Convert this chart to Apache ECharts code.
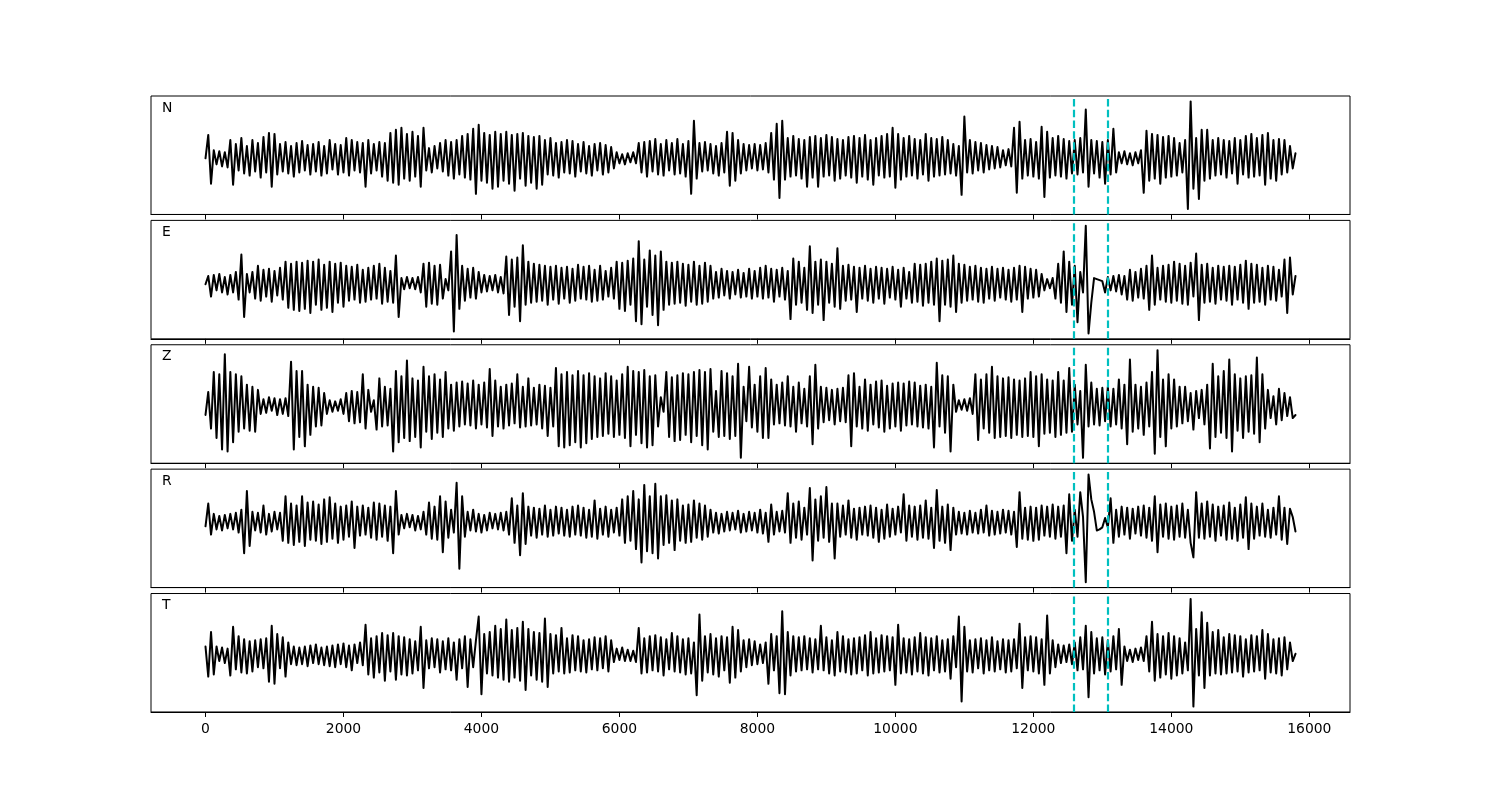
<!DOCTYPE html>
<html><head><meta charset="utf-8">
<script src="https://cdn.jsdelivr.net/npm/echarts@6/dist/echarts.min.js"></script>
<style>html,body{margin:0;padding:0;background:#fff}#c{width:1500px;height:800px}</style>
</head><body><div id="c"></div>
<script>
// sample spacing between successive read-off extrema (samples)
const dt = 40;
const traceNames = ['N', 'E', 'Z', 'R', 'T'];
const xTicks = [0, 2000, 4000, 6000, 8000, 10000, 12000, 14000, 16000];
const xMin = -790, xMax = 16590;
const picks = [12590, 13085];

const N = [
0,23,-25,8,-6,7,-8,6,-9,18,
-26,14,-12,20,-15,12,-17,18,-13,15,
-19,21,-14,25,-28,24,-16,14,-13,16,
-15,12,-18,15,-14,17,-12,13,-16,14,
-13,16,-17,12,-15,18,-11,14,-16,13,
-14,20,-17,18,-12,16,-14,15,-28,18,
-15,14,-12,16,-18,15,-22,25,-24,28,
-26,30,-20,24,-22,26,-18,22,-28,30,
-12,10,-14,12,-10,15,-13,18,-17,16,
-20,18,-16,22,-19,24,-21,29,-35,33,
-22,25,-24,23,-30,26,-28,24,-22,26,
-25,23,-32,24,-20,25,-27,22,-24,21,
-30,22,-26,18,-16,20,-17,15,-19,16,
-14,18,-15,17,-18,14,-13,16,-15,12,
-17,14,-12,15,-16,13,-14,11,-10,6,
-5,4,-6,5,-4,6,-5,15,-14,16,
-18,17,-13,19,-16,14,-17,18,-12,15,
-16,19,-15,14,-18,17,-35,37,-20,15,
-13,16,-12,14,-15,12,-17,15,-14,26,
-27,25,-22,18,-15,14,-12,13,-10,14,
-12,13,-11,15,-14,25,-21,34,-39,37,
-21,20,-18,22,-17,19,-20,18,-28,21,
-19,22,-28,20,-18,23,-17,21,-22,19,
-20,18,-17,21,-19,22,-24,20,-18,23,
-21,18,-26,20,-17,22,-19,24,-18,30,
-29,24,-21,20,-18,22,-17,19,-20,18,
-16,24,-22,20,-18,19,-17,21,-16,18,
-15,14,-17,12,-36,41,-14,18,-15,16,
-12,15,-14,13,-11,12,-10,11,-9,8,
-7,9,-8,30,-34,36,-20,18,-17,19,
-18,16,-20,31,-38,26,-19,20,-17,22,
-18,19,-20,17,-15,18,-16,20,-14,48,
-28,18,-15,17,-19,16,-25,18,-16,29,
-14,6,-5,7,-6,5,-7,6,-5,8,
-34,27,-22,24,-20,23,-25,21,-19,22,
-18,20,-17,15,-14,18,-50,56,-30,20,
-40,28,-22,28,-20,18,-17,20,-16,18,
-19,17,-15,20,-25,18,-16,22,-19,24,
-18,20,-17,23,-26,25,-20,18,-22,19,
-16,18,-14,12,-10,5
];

const E = [
0,8,-12,9,-6,10,-8,7,-10,9,
-8,12,-15,29,-32,10,-8,12,-14,18,
-16,14,-12,15,-17,13,-11,16,-15,22,
-23,20,-25,22,-26,21,-24,23,-28,22,
-20,24,-25,19,-23,22,-27,20,-18,21,
-22,18,-16,17,-15,19,-18,14,-17,16,
-15,18,-14,20,-19,16,-17,13,-18,28,
-32,6,-5,7,-4,6,-5,7,-8,20,
-22,21,-19,18,-20,19,-14,5,-6,32,
-46,48,-24,18,-16,15,-13,16,-14,12,
-8,9,-7,8,-6,9,-8,7,-9,27,
-30,24,-22,26,-36,38,-20,22,-18,20,
-17,19,-16,18,-20,17,-15,18,-19,16,
-14,17,-18,15,-16,19,-14,17,-15,18,
-17,14,-16,18,-15,13,-12,16,-14,22,
-24,21,-26,23,-20,25,-36,42,-39,24,
-22,33,-30,28,-40,32,-25,22,-20,21,
-19,22,-18,20,-21,19,-17,22,-20,18,
-19,21,-17,18,-14,12,-13,15,-11,13,
-14,12,-10,14,-13,11,-12,15,-14,13,
-12,16,-14,18,-13,15,-17,14,-12,16,
-15,13,-34,25,-20,22,-18,16,-25,37,
-28,22,-20,24,-35,22,-18,20,-22,35,
-24,18,-16,19,-15,17,-27,16,-14,18,
-16,15,-18,17,-14,16,-19,15,-13,17,
-15,14,-22,16,-14,12,-18,20,-17,19,
-21,20,-18,22,-20,25,-36,23,-20,24,
-22,28,-27,20,-18,19,-16,17,-15,18,
-17,16,-18,15,-14,17,-16,15,-13,16,
-15,14,-17,16,-15,18,-27,17,-14,15,
-13,14,-12,10,-6,5,-4,6,-14,20,
-18,32,-27,22,-20,18,-37,12,-8,57,
-48,-18,6,5,4,3,-8,7,-6,8,
-7,9,-10,8,-15,14,-16,12,-13,15,
-14,18,-25,28,-20,16,-15,18,-17,19,
-18,22,-16,20,-19,18,-20,21,-12,30,
-35,19,-18,20,-17,16,-19,18,-15,17,
-16,18,-20,17,-15,19,-18,23,-24,20,
-18,19,-17,16,-20,18,-15,17,-16,14,
-12,24,-28,26,-10,8
];

const Z = [
-9,13,-22,32,-31,30,-42,49,-44,32,
-35,30,-25,28,-22,20,-24,18,-25,15,
-8,6,-7,8,-5,7,-9,6,-8,7,
-10,42,-42,33,-30,33,-39,20,-28,18,
-20,17,-19,12,-8,5,-6,4,-5,6,
-8,12,-15,14,-17,13,-16,30,-22,15,
-6,5,-23,26,-20,18,-19,16,-44,33,
-35,28,-31,43,-34,26,-30,24,-40,37,
-25,28,-32,30,-26,25,-30,32,-22,20,
-24,22,-20,23,-18,21,-19,24,-22,20,
-18,22,-21,35,-29,24,-20,18,-22,20,
-19,21,-17,30,-21,18,-20,26,-19,17,
-18,20,-22,19,-29,17,-20,36,-39,30,
-40,32,-38,29,-35,33,-40,29,-36,31,
-32,28,-30,26,-29,31,-27,28,-30,24,
-28,30,-31,37,-39,33,-28,32,-36,34,
-40,28,-38,29,-20,8,-6,32,-30,27,
-34,29,-33,31,-28,30,-35,32,-29,34,
-38,32,-42,35,-25,14,-30,33,-29,31,
-32,28,-29,40,-50,18,-15,37,-21,20,
-25,28,-31,36,-31,25,-18,20,-17,22,
-19,28,-20,18,-25,22,-17,16,-20,28,
-37,39,-22,18,-16,17,-14,15,-18,16,
-15,17,-16,29,-39,31,-20,18,-22,25,
-24,20,-18,23,-21,24,-25,19,-22,21,
-20,22,-24,21,-19,23,-18,22,-20,19,
-21,20,-22,18,-40,41,-20,29,-26,28,
-44,20,-6,5,-4,6,-5,7,-8,30,
-33,25,-22,30,-26,37,-31,28,-30,26,
-29,27,-31,25,-28,24,-30,26,-29,32,
-30,28,-39,30,-27,25,-26,24,-30,32,
-28,24,-26,36,-25,20,-18,14,-50,39,
-20,22,-18,16,-19,17,-15,18,-20,16,
-18,25,-22,20,-37,44,-25,20,-22,18,
-28,22,-20,32,-46,53,-30,25,-39,30,
-22,25,-20,18,-17,18,-15,12,-23,14,
-12,15,-18,20,-41,40,-30,28,-26,33,
-31,44,-44,30,-24,26,-31,28,-25,29,
-27,46,-35,30,-22,15,-12,9,-18,16,
-14,12,-10,8,-12,-9
];

const R = [
-4,18,-12,8,-7,6,-8,7,-6,8,
-7,9,-10,12,-30,30,-23,10,-8,9,
-10,16,-12,8,-9,10,-7,9,-18,25,
-20,18,-22,16,-19,25,-23,19,-17,20,
-18,17,-21,22,-19,24,-16,18,-20,15,
-17,16,-14,20,-25,15,-13,16,-12,14,
-15,19,-17,18,-14,16,-18,15,-30,30,
-12,7,-6,8,-5,7,-8,6,-7,10,
-12,19,-16,15,-17,25,-29,20,-15,12,
-10,38,-45,25,-14,10,-8,12,-9,8,
-10,7,-8,9,-6,8,-7,9,-8,10,
-12,23,-20,16,-32,28,-21,15,-13,14,
-15,13,-12,16,-14,12,-13,15,-11,14,
-13,12,-14,15,-12,16,-13,14,-15,12,
-14,21,-16,13,-12,15,-14,12,-10,14,
-13,22,-20,25,-18,30,-26,22,-39,36,
-28,25,-30,37,-35,25,-22,26,-20,21,
-27,22,-18,16,-20,17,-19,21,-15,18,
-17,16,-14,12,-10,9,-11,8,-9,10,
-8,9,-7,11,-10,8,-9,10,-8,9,
-10,12,-11,9,-19,17,-12,10,-9,11,
-10,28,-20,18,-15,20,-17,14,-12,33,
-37,22,-18,25,-15,34,-19,18,-35,18,
-14,16,-12,21,-15,13,-17,14,-12,15,
-13,16,-15,14,-19,12,-16,17,-14,13,
-12,15,-10,27,-18,16,-14,15,-17,16,
-15,21,-16,14,-25,31,-18,15,-20,17,
-27,14,-12,10,-11,9,-12,11,-10,9,
-11,12,-10,16,-13,11,-12,10,-11,12,
-10,11,-12,10,-24,29,-16,14,-17,15,
-18,14,-17,16,-13,15,-14,17,-16,15,
-14,16,-30,27,-18,12,-14,29,5,-58,
46,22,10,-8,-7,-5,4,-5,23,-20,
12,-14,15,-12,14,-16,13,-11,15,-13,
16,-15,14,-18,25,-29,17,-14,18,-16,
15,-17,16,-14,18,-15,12,-20,-34,29,
-15,18,-16,20,-14,17,-18,15,-13,16,
-17,19,-16,14,-18,17,-15,24,-26,18,
-16,15,-13,18,-14,12,-15,14,-12,25,
-17,14,-21,13,5,-9
];

const T = [
8,-21,22,-19,8,-6,7,-8,6,-20,
27,-14,18,-17,15,-18,13,-16,14,-12,
15,-13,16,-26,28,-28,20,-13,17,-21,
12,-9,8,-10,7,-9,8,-11,9,-8,
10,-9,7,-10,8,-11,9,-12,10,-9,
11,-12,9,-15,10,-8,12,-10,29,-19,
16,-22,18,-17,21,-25,19,-16,21,-24,
18,-19,17,-20,15,-18,13,-15,27,-32,
14,-13,16,-12,15,-17,13,-14,16,-15,
12,-24,15,-13,18,-31,15,-12,14,37,
-38,20,-18,22,-20,28,-22,25,-24,34,
-26,24,-22,26,-25,32,-34,25,-20,22,
-24,21,-26,35,-31,20,-18,19,-16,26,
-18,16,-17,19,-15,18,-16,14,-17,15,
-14,17,-15,16,-13,18,-16,14,-7,6,
-5,7,-6,5,-6,4,-7,26,-18,16,
-17,18,-15,19,-16,17,-20,15,-14,21,
-16,18,-17,15,-19,16,-18,12,-39,39,
-25,18,-17,20,-19,16,-21,18,-15,17,
-27,27,-22,24,-16,14,-12,15,-10,13,
-9,10,-8,12,-28,20,-15,18,-37,42,
-38,22,-20,18,-16,17,-15,18,-14,16,
-17,15,-14,28,-15,17,-18,14,-20,22,
-16,18,-17,15,-19,16,-18,17,-15,19,
-20,22,-18,16,-17,19,-16,18,-15,17,
-29,29,-18,16,-17,15,-19,17,-16,21,
-18,17,-20,16,-15,18,-17,14,-16,15,
-23,18,-12,37,-45,27,-16,14,-17,15,
-13,16,-18,14,-15,17,-16,13,-14,15,
-17,14,-16,15,-13,30,-32,17,-15,18,
-16,17,-18,15,-29,38,-18,14,-12,10,
-8,9,-7,10,-9,12,-15,17,-14,28,
-41,22,-18,16,-15,17,-19,14,-16,18,
-14,25,-29,8,-6,5,-7,6,-5,7,
-6,18,-16,32,-25,20,-22,18,-19,21,
-23,18,-20,16,-18,12,-15,54,-50,25,
-20,41,-32,31,-20,22,-18,24,-19,17,
-18,20,-17,19,-16,18,-21,15,-17,19,
-16,18,-15,24,-23,20,-17,15,-18,16,
-20,17,-14,12,-6,1
];

const traces = [N, E, Z, R, T];
const chart = echarts.init(document.getElementById('c'), null, {renderer: 'canvas'});
const gridTop0 = 96, gridH = 118.46, gridStep = 124.38;
const grids = [], xAxes = [], yAxes = [], series = [], graphics = [];
traces.forEach((tr, k) => {
  const top = gridTop0 + k * gridStep;
  const last = k === traces.length - 1;
  grids.push({left: 151, width: 1199, top: top, height: gridH, show: true,
    borderColor: '#000', borderWidth: 1, backgroundColor: 'transparent',
    containLabel: false, outerBoundsMode: 'none'});
  xAxes.push({type: 'value', gridIndex: k, min: xMin, max: xMax, position: 'bottom',
    axisLine: {show: true, onZero: false, lineStyle: {color: '#000', width: 1}},
    axisTick: {show: true, inside: false, length: 5, lineStyle: {color: '#000', width: 1}, customValues: xTicks},
    axisLabel: {show: last, customValues: xTicks, color: '#000', fontSize: 13.9,
      fontFamily: 'DejaVu Sans', margin: 10, formatter: v => String(v)},
    splitLine: {show: false}});
  const lo = Math.min(...tr), hi = Math.max(...tr), pad = 0.05 * (hi - lo);
  yAxes.push({type: 'value', gridIndex: k, min: lo - pad, max: hi + pad, show: false,
    splitLine: {show: false}, axisLine: {show: false}});
  series.push({type: 'line', xAxisIndex: k, yAxisIndex: k,
    data: tr.map((v, i) => [i * dt, v]),
    showSymbol: false, symbol: 'none', smooth: false, silent: true, animation: false,
    lineStyle: {color: '#000', width: 2, join: 'round', cap: 'round'},
    markLine: {silent: true, animation: false, symbol: ['none', 'none'], label: {show: false},
      lineStyle: {color: '#00bfbf', width: 2.2, type: [7.5, 3.3], opacity: 1},
      emphasis: {disabled: true},
      data: picks.map(x => ({xAxis: x}))}
  });
  graphics.push({type: 'text', left: 162, top: top + 5, silent: true,
    style: {text: traceNames[k], font: '13.9px "DejaVu Sans"', fill: '#000'}});
});
chart.setOption({
  animation: false,
  backgroundColor: '#fff',
  grid: grids, xAxis: xAxes, yAxis: yAxes, series: series, graphic: graphics
});
</script>
</body></html>
